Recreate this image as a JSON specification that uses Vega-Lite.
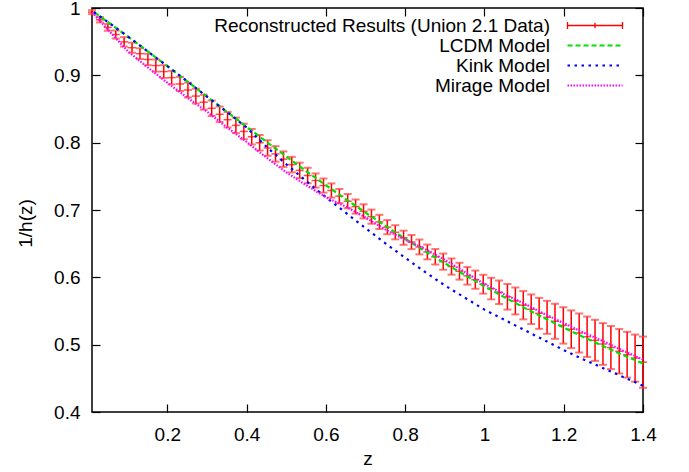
{
  "$schema": "https://vega.github.io/schema/vega-lite/v6.json",
  "width": 551,
  "height": 404,
  "autosize": "none",
  "padding": {"left": 92, "top": 8, "right": 46, "bottom": 60},
  "background": "white",
  "config": {
    "font": "Liberation Sans",
    "view": {"stroke": "black", "strokeWidth": 1.5},
    "axis": {
      "labelFont": "Liberation Sans", "labelFontSize": 19, "labelColor": "black",
      "titleFont": "Liberation Sans", "titleFontSize": 19, "titleFontWeight": "normal", "titleColor": "black",
      "domain": false, "tickColor": "black", "tickWidth": 1.2, "tickSize": -8,
      "grid": false, "labelFlush": false, "labelOverlap": false
    },
    "legend": {
      "orient": "none", "legendX": 493.5, "legendY": 8,
      "labelFont": "Liberation Sans", "labelFontSize": 19, "labelColor": "black", "labelLimit": 0,
      "symbolSize": 100, "symbolStrokeWidth": 2.2, "rowPadding": -2, "padding": 0, "offset": 0
    }
  },
  "datasets": {
    "rec": [
      {"series": "Reconstructed Results (Union 2.1 Data)", "z": 0.010, "y": 0.9938, "lo": 0.9908, "hi": 0.9968},
      {"series": "Reconstructed Results (Union 2.1 Data)", "z": 0.030, "y": 0.9825, "lo": 0.9785, "hi": 0.9865},
      {"series": "Reconstructed Results (Union 2.1 Data)", "z": 0.050, "y": 0.9712, "lo": 0.9662, "hi": 0.9762},
      {"series": "Reconstructed Results (Union 2.1 Data)", "z": 0.070, "y": 0.9606, "lo": 0.9546, "hi": 0.9666},
      {"series": "Reconstructed Results (Union 2.1 Data)", "z": 0.091, "y": 0.9497, "lo": 0.9427, "hi": 0.9567},
      {"series": "Reconstructed Results (Union 2.1 Data)", "z": 0.111, "y": 0.9410, "lo": 0.9335, "hi": 0.9485},
      {"series": "Reconstructed Results (Union 2.1 Data)", "z": 0.131, "y": 0.9322, "lo": 0.9242, "hi": 0.9402},
      {"series": "Reconstructed Results (Union 2.1 Data)", "z": 0.151, "y": 0.9235, "lo": 0.9150, "hi": 0.9320},
      {"series": "Reconstructed Results (Union 2.1 Data)", "z": 0.171, "y": 0.9145, "lo": 0.9055, "hi": 0.9235},
      {"series": "Reconstructed Results (Union 2.1 Data)", "z": 0.191, "y": 0.9056, "lo": 0.8961, "hi": 0.9151},
      {"series": "Reconstructed Results (Union 2.1 Data)", "z": 0.211, "y": 0.8966, "lo": 0.8866, "hi": 0.9066},
      {"series": "Reconstructed Results (Union 2.1 Data)", "z": 0.232, "y": 0.8872, "lo": 0.8767, "hi": 0.8977},
      {"series": "Reconstructed Results (Union 2.1 Data)", "z": 0.252, "y": 0.8782, "lo": 0.8672, "hi": 0.8892},
      {"series": "Reconstructed Results (Union 2.1 Data)", "z": 0.272, "y": 0.8692, "lo": 0.8582, "hi": 0.8802},
      {"series": "Reconstructed Results (Union 2.1 Data)", "z": 0.292, "y": 0.8601, "lo": 0.8491, "hi": 0.8711},
      {"series": "Reconstructed Results (Union 2.1 Data)", "z": 0.312, "y": 0.8511, "lo": 0.8396, "hi": 0.8626},
      {"series": "Reconstructed Results (Union 2.1 Data)", "z": 0.332, "y": 0.8421, "lo": 0.8306, "hi": 0.8536},
      {"series": "Reconstructed Results (Union 2.1 Data)", "z": 0.352, "y": 0.8341, "lo": 0.8226, "hi": 0.8456},
      {"series": "Reconstructed Results (Union 2.1 Data)", "z": 0.373, "y": 0.8257, "lo": 0.8142, "hi": 0.8372},
      {"series": "Reconstructed Results (Union 2.1 Data)", "z": 0.393, "y": 0.8167, "lo": 0.8052, "hi": 0.8282},
      {"series": "Reconstructed Results (Union 2.1 Data)", "z": 0.413, "y": 0.8088, "lo": 0.7973, "hi": 0.8203},
      {"series": "Reconstructed Results (Union 2.1 Data)", "z": 0.433, "y": 0.7999, "lo": 0.7884, "hi": 0.8114},
      {"series": "Reconstructed Results (Union 2.1 Data)", "z": 0.453, "y": 0.7921, "lo": 0.7806, "hi": 0.8036},
      {"series": "Reconstructed Results (Union 2.1 Data)", "z": 0.473, "y": 0.7833, "lo": 0.7718, "hi": 0.7948},
      {"series": "Reconstructed Results (Union 2.1 Data)", "z": 0.493, "y": 0.7755, "lo": 0.7640, "hi": 0.7870},
      {"series": "Reconstructed Results (Union 2.1 Data)", "z": 0.514, "y": 0.7674, "lo": 0.7559, "hi": 0.7789},
      {"series": "Reconstructed Results (Union 2.1 Data)", "z": 0.534, "y": 0.7588, "lo": 0.7473, "hi": 0.7703},
      {"series": "Reconstructed Results (Union 2.1 Data)", "z": 0.554, "y": 0.7512, "lo": 0.7397, "hi": 0.7627},
      {"series": "Reconstructed Results (Union 2.1 Data)", "z": 0.574, "y": 0.7438, "lo": 0.7333, "hi": 0.7543},
      {"series": "Reconstructed Results (Union 2.1 Data)", "z": 0.594, "y": 0.7363, "lo": 0.7258, "hi": 0.7468},
      {"series": "Reconstructed Results (Union 2.1 Data)", "z": 0.614, "y": 0.7290, "lo": 0.7185, "hi": 0.7395},
      {"series": "Reconstructed Results (Union 2.1 Data)", "z": 0.634, "y": 0.7207, "lo": 0.7102, "hi": 0.7312},
      {"series": "Reconstructed Results (Union 2.1 Data)", "z": 0.655, "y": 0.7131, "lo": 0.7026, "hi": 0.7236},
      {"series": "Reconstructed Results (Union 2.1 Data)", "z": 0.675, "y": 0.7051, "lo": 0.6946, "hi": 0.7156},
      {"series": "Reconstructed Results (Union 2.1 Data)", "z": 0.695, "y": 0.6980, "lo": 0.6875, "hi": 0.7085},
      {"series": "Reconstructed Results (Union 2.1 Data)", "z": 0.715, "y": 0.6901, "lo": 0.6796, "hi": 0.7006},
      {"series": "Reconstructed Results (Union 2.1 Data)", "z": 0.735, "y": 0.6823, "lo": 0.6718, "hi": 0.6928},
      {"series": "Reconstructed Results (Union 2.1 Data)", "z": 0.755, "y": 0.6745, "lo": 0.6640, "hi": 0.6850},
      {"series": "Reconstructed Results (Union 2.1 Data)", "z": 0.775, "y": 0.6669, "lo": 0.6564, "hi": 0.6774},
      {"series": "Reconstructed Results (Union 2.1 Data)", "z": 0.796, "y": 0.6588, "lo": 0.6483, "hi": 0.6693},
      {"series": "Reconstructed Results (Union 2.1 Data)", "z": 0.816, "y": 0.6524, "lo": 0.6419, "hi": 0.6629},
      {"series": "Reconstructed Results (Union 2.1 Data)", "z": 0.836, "y": 0.6451, "lo": 0.6341, "hi": 0.6561},
      {"series": "Reconstructed Results (Union 2.1 Data)", "z": 0.856, "y": 0.6377, "lo": 0.6267, "hi": 0.6487},
      {"series": "Reconstructed Results (Union 2.1 Data)", "z": 0.876, "y": 0.6305, "lo": 0.6190, "hi": 0.6420},
      {"series": "Reconstructed Results (Union 2.1 Data)", "z": 0.896, "y": 0.6233, "lo": 0.6113, "hi": 0.6353},
      {"series": "Reconstructed Results (Union 2.1 Data)", "z": 0.917, "y": 0.6160, "lo": 0.6040, "hi": 0.6280},
      {"series": "Reconstructed Results (Union 2.1 Data)", "z": 0.937, "y": 0.6091, "lo": 0.5966, "hi": 0.6216},
      {"series": "Reconstructed Results (Union 2.1 Data)", "z": 0.957, "y": 0.6022, "lo": 0.5892, "hi": 0.6152},
      {"series": "Reconstructed Results (Union 2.1 Data)", "z": 0.977, "y": 0.5965, "lo": 0.5830, "hi": 0.6100},
      {"series": "Reconstructed Results (Union 2.1 Data)", "z": 0.997, "y": 0.5898, "lo": 0.5758, "hi": 0.6038},
      {"series": "Reconstructed Results (Union 2.1 Data)", "z": 1.017, "y": 0.5833, "lo": 0.5673, "hi": 0.5993},
      {"series": "Reconstructed Results (Union 2.1 Data)", "z": 1.037, "y": 0.5778, "lo": 0.5603, "hi": 0.5953},
      {"series": "Reconstructed Results (Union 2.1 Data)", "z": 1.058, "y": 0.5711, "lo": 0.5521, "hi": 0.5901},
      {"series": "Reconstructed Results (Union 2.1 Data)", "z": 1.078, "y": 0.5649, "lo": 0.5449, "hi": 0.5849},
      {"series": "Reconstructed Results (Union 2.1 Data)", "z": 1.098, "y": 0.5586, "lo": 0.5376, "hi": 0.5796},
      {"series": "Reconstructed Results (Union 2.1 Data)", "z": 1.118, "y": 0.5526, "lo": 0.5306, "hi": 0.5746},
      {"series": "Reconstructed Results (Union 2.1 Data)", "z": 1.138, "y": 0.5465, "lo": 0.5235, "hi": 0.5695},
      {"series": "Reconstructed Results (Union 2.1 Data)", "z": 1.158, "y": 0.5406, "lo": 0.5161, "hi": 0.5651},
      {"series": "Reconstructed Results (Union 2.1 Data)", "z": 1.178, "y": 0.5347, "lo": 0.5087, "hi": 0.5607},
      {"series": "Reconstructed Results (Union 2.1 Data)", "z": 1.199, "y": 0.5286, "lo": 0.5016, "hi": 0.5556},
      {"series": "Reconstructed Results (Union 2.1 Data)", "z": 1.219, "y": 0.5229, "lo": 0.4949, "hi": 0.5509},
      {"series": "Reconstructed Results (Union 2.1 Data)", "z": 1.239, "y": 0.5173, "lo": 0.4883, "hi": 0.5463},
      {"series": "Reconstructed Results (Union 2.1 Data)", "z": 1.259, "y": 0.5118, "lo": 0.4818, "hi": 0.5418},
      {"series": "Reconstructed Results (Union 2.1 Data)", "z": 1.279, "y": 0.5064, "lo": 0.4759, "hi": 0.5369},
      {"series": "Reconstructed Results (Union 2.1 Data)", "z": 1.299, "y": 0.5010, "lo": 0.4700, "hi": 0.5320},
      {"series": "Reconstructed Results (Union 2.1 Data)", "z": 1.319, "y": 0.4957, "lo": 0.4637, "hi": 0.5277},
      {"series": "Reconstructed Results (Union 2.1 Data)", "z": 1.340, "y": 0.4902, "lo": 0.4572, "hi": 0.5232},
      {"series": "Reconstructed Results (Union 2.1 Data)", "z": 1.360, "y": 0.4851, "lo": 0.4511, "hi": 0.5191},
      {"series": "Reconstructed Results (Union 2.1 Data)", "z": 1.380, "y": 0.4800, "lo": 0.4450, "hi": 0.5150},
      {"series": "Reconstructed Results (Union 2.1 Data)", "z": 1.400, "y": 0.4740, "lo": 0.4360, "hi": 0.5120}
    ],
    "models": [
      {"series": "LCDM Model", "z": 0.00, "v": 1.0000}, {"series": "LCDM Model", "z": 0.05, "v": 0.9792},
      {"series": "LCDM Model", "z": 0.10, "v": 0.9578}, {"series": "LCDM Model", "z": 0.15, "v": 0.9359},
      {"series": "LCDM Model", "z": 0.20, "v": 0.9136}, {"series": "LCDM Model", "z": 0.25, "v": 0.8911},
      {"series": "LCDM Model", "z": 0.30, "v": 0.8685}, {"series": "LCDM Model", "z": 0.35, "v": 0.8460},
      {"series": "LCDM Model", "z": 0.40, "v": 0.8236}, {"series": "LCDM Model", "z": 0.45, "v": 0.8014},
      {"series": "LCDM Model", "z": 0.50, "v": 0.7794}, {"series": "LCDM Model", "z": 0.55, "v": 0.7579},
      {"series": "LCDM Model", "z": 0.60, "v": 0.7368}, {"series": "LCDM Model", "z": 0.65, "v": 0.7161},
      {"series": "LCDM Model", "z": 0.70, "v": 0.6960}, {"series": "LCDM Model", "z": 0.75, "v": 0.6764},
      {"series": "LCDM Model", "z": 0.80, "v": 0.6573}, {"series": "LCDM Model", "z": 0.85, "v": 0.6389},
      {"series": "LCDM Model", "z": 0.90, "v": 0.6209}, {"series": "LCDM Model", "z": 0.95, "v": 0.6036},
      {"series": "LCDM Model", "z": 1.00, "v": 0.5868}, {"series": "LCDM Model", "z": 1.05, "v": 0.5706},
      {"series": "LCDM Model", "z": 1.10, "v": 0.5550}, {"series": "LCDM Model", "z": 1.15, "v": 0.5399},
      {"series": "LCDM Model", "z": 1.20, "v": 0.5253}, {"series": "LCDM Model", "z": 1.25, "v": 0.5112},
      {"series": "LCDM Model", "z": 1.30, "v": 0.4977}, {"series": "LCDM Model", "z": 1.35, "v": 0.4846},
      {"series": "LCDM Model", "z": 1.40, "v": 0.4720},
      {"series": "Kink Model", "z": 0.00, "v": 1.0000}, {"series": "Kink Model", "z": 0.05, "v": 0.9792},
      {"series": "Kink Model", "z": 0.10, "v": 0.9578}, {"series": "Kink Model", "z": 0.15, "v": 0.9359},
      {"series": "Kink Model", "z": 0.20, "v": 0.9136}, {"series": "Kink Model", "z": 0.25, "v": 0.8911},
      {"series": "Kink Model", "z": 0.30, "v": 0.8685}, {"series": "Kink Model", "z": 0.35, "v": 0.8460},
      {"series": "Kink Model", "z": 0.40, "v": 0.8225}, {"series": "Kink Model", "z": 0.45, "v": 0.7940},
      {"series": "Kink Model", "z": 0.50, "v": 0.7680}, {"series": "Kink Model", "z": 0.55, "v": 0.7430},
      {"series": "Kink Model", "z": 0.60, "v": 0.7190}, {"series": "Kink Model", "z": 0.65, "v": 0.6960},
      {"series": "Kink Model", "z": 0.70, "v": 0.6730}, {"series": "Kink Model", "z": 0.75, "v": 0.6505},
      {"series": "Kink Model", "z": 0.80, "v": 0.6290}, {"series": "Kink Model", "z": 0.85, "v": 0.6080},
      {"series": "Kink Model", "z": 0.90, "v": 0.5880}, {"series": "Kink Model", "z": 0.95, "v": 0.5700},
      {"series": "Kink Model", "z": 1.00, "v": 0.5520}, {"series": "Kink Model", "z": 1.05, "v": 0.5370},
      {"series": "Kink Model", "z": 1.10, "v": 0.5220}, {"series": "Kink Model", "z": 1.15, "v": 0.5070},
      {"series": "Kink Model", "z": 1.20, "v": 0.4920}, {"series": "Kink Model", "z": 1.25, "v": 0.4780},
      {"series": "Kink Model", "z": 1.30, "v": 0.4650}, {"series": "Kink Model", "z": 1.35, "v": 0.4520},
      {"series": "Kink Model", "z": 1.40, "v": 0.4390},
      {"series": "Mirage Model", "z": 0.00, "v": 1.0000}, {"series": "Mirage Model", "z": 0.05, "v": 0.9680},
      {"series": "Mirage Model", "z": 0.10, "v": 0.9360}, {"series": "Mirage Model", "z": 0.15, "v": 0.9120},
      {"series": "Mirage Model", "z": 0.20, "v": 0.8890}, {"series": "Mirage Model", "z": 0.25, "v": 0.8670},
      {"series": "Mirage Model", "z": 0.30, "v": 0.8460}, {"series": "Mirage Model", "z": 0.35, "v": 0.8230},
      {"series": "Mirage Model", "z": 0.40, "v": 0.8010}, {"series": "Mirage Model", "z": 0.45, "v": 0.7780},
      {"series": "Mirage Model", "z": 0.50, "v": 0.7560}, {"series": "Mirage Model", "z": 0.55, "v": 0.7370},
      {"series": "Mirage Model", "z": 0.60, "v": 0.7190}, {"series": "Mirage Model", "z": 0.65, "v": 0.7050},
      {"series": "Mirage Model", "z": 0.70, "v": 0.6890}, {"series": "Mirage Model", "z": 0.75, "v": 0.6710},
      {"series": "Mirage Model", "z": 0.80, "v": 0.6560}, {"series": "Mirage Model", "z": 0.85, "v": 0.6420},
      {"series": "Mirage Model", "z": 0.90, "v": 0.6260}, {"series": "Mirage Model", "z": 0.95, "v": 0.6080},
      {"series": "Mirage Model", "z": 1.00, "v": 0.5900}, {"series": "Mirage Model", "z": 1.05, "v": 0.5750},
      {"series": "Mirage Model", "z": 1.10, "v": 0.5610}, {"series": "Mirage Model", "z": 1.15, "v": 0.5460},
      {"series": "Mirage Model", "z": 1.20, "v": 0.5320}, {"series": "Mirage Model", "z": 1.25, "v": 0.5180},
      {"series": "Mirage Model", "z": 1.30, "v": 0.5050}, {"series": "Mirage Model", "z": 1.35, "v": 0.4910},
      {"series": "Mirage Model", "z": 1.40, "v": 0.4780}
    ]
  },
  "resolve": {"axis": {"x": "independent", "y": "independent"}},
  "layer": [
    {
      "data": {"name": "rec"},
      "mark": {"type": "rule", "strokeWidth": 1.5},
      "encoding": {
        "x": {"field": "z", "type": "quantitative",
              "scale": {"domain": [0.01, 1.4], "nice": false, "zero": false},
              "axis": {"orient": "bottom", "title": "z", "values": [0.2, 0.4, 0.6, 0.8, 1.0, 1.2, 1.4], "format": "~g",
                       "labelPadding": 21, "titleX": 275.5, "titleY": 46, "titleBaseline": "middle", "titleAlign": "center"}},
        "y": {"field": "lo", "type": "quantitative",
              "scale": {"domain": [0.4, 1], "nice": false, "zero": false},
              "axis": {"orient": "left", "title": "1/h(z)", "values": [0.4, 0.5, 0.6, 0.7, 0.8, 0.9, 1.0], "format": "~g",
                       "labelPadding": 20, "titleX": -67, "titleY": 215, "titleBaseline": "middle", "titleAlign": "center", "titleAngle": -90}},
        "y2": {"field": "hi"},
        "color": {"field": "series", "type": "nominal",
                  "scale": {"domain": ["Reconstructed Results (Union 2.1 Data)", "LCDM Model", "Kink Model", "Mirage Model"],
                            "range": ["#ff0000", "#00e000", "#0000ff", "#ff00ff"]},
                  "legend": {"title": null,
                             "encode": {"labels": {"update": {"x": {"value": -35.5}, "align": {"value": "right"}}},
                                        "symbols": {"update": {"fill": {"value": "transparent"},
                                                               "strokeWidth": {"signal": "datum.value === 'Reconstructed Results (Union 2.1 Data)' ? 1.3 : 2.2"},
                                                               "shape": {"signal": "datum.value === 'Reconstructed Results (Union 2.1 Data)' ? 'M-5.5,0H5.5M-5.5,-0.7V0.7M0,-0.55V0.55M5.5,-0.7V0.7' : 'M-5.5,0H5.5'"}}}}}},
        "strokeDash": {"field": "series", "type": "nominal",
                       "scale": {"domain": ["Reconstructed Results (Union 2.1 Data)", "LCDM Model", "Kink Model", "Mirage Model"],
                                 "range": [[1, 0], [5, 3], [2.5, 4.5], [1.5, 1.5]]},
                       "legend": {"title": null,
                                  "encode": {"labels": {"update": {"x": {"value": -35.5}, "align": {"value": "right"}}},
                                             "symbols": {"update": {"fill": {"value": "transparent"},
                                                                    "strokeWidth": {"signal": "datum.value === 'Reconstructed Results (Union 2.1 Data)' ? 1.3 : 2.2"},
                                                                    "shape": {"signal": "datum.value === 'Reconstructed Results (Union 2.1 Data)' ? 'M-5.5,0H5.5M-5.5,-0.7V0.7M0,-0.55V0.55M5.5,-0.7V0.7' : 'M-5.5,0H5.5'"}}}}}}
      }
    },
    {
      "data": {"name": "rec"},
      "mark": {"type": "tick", "orient": "horizontal", "size": 8, "thickness": 2, "color": "#ff3c3c"},
      "encoding": {
        "x": {"field": "z", "type": "quantitative",
              "axis": {"orient": "top", "labels": false, "title": null, "values": [0.2, 0.4, 0.6, 0.8, 1.0, 1.2, 1.4]}},
        "y": {"field": "hi", "type": "quantitative",
              "axis": {"orient": "right", "labels": false, "title": null, "values": [0.4, 0.5, 0.6, 0.7, 0.8, 0.9, 1.0]}}
      }
    },
    {
      "data": {"name": "rec"},
      "mark": {"type": "tick", "orient": "horizontal", "size": 8, "thickness": 2, "color": "#ff3c3c"},
      "encoding": {
        "x": {"field": "z", "type": "quantitative", "axis": null},
        "y": {"field": "lo", "type": "quantitative", "axis": null}
      }
    },
    {
      "data": {"name": "rec"},
      "mark": {"type": "tick", "orient": "horizontal", "size": 8, "thickness": 1.5, "color": "#ff0000"},
      "encoding": {
        "x": {"field": "z", "type": "quantitative", "axis": null},
        "y": {"field": "y", "type": "quantitative", "axis": null}
      }
    },
    {
      "data": {"name": "models"},
      "mark": {"type": "line", "strokeWidth": 2.2, "clip": true},
      "encoding": {
        "x": {"field": "z", "type": "quantitative", "axis": null},
        "y": {"field": "v", "type": "quantitative", "axis": null},
        "detail": {"field": "series"},
        "color": {"field": "series", "type": "nominal"},
        "strokeDash": {"field": "series", "type": "nominal"}
      }
    }
  ]
}
